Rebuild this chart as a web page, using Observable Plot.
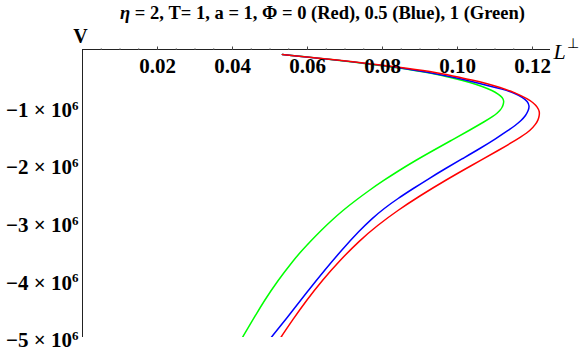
<!DOCTYPE html>
<html><head><meta charset="utf-8">
<script src="https://cdn.jsdelivr.net/npm/d3@7"></script>
<script src="https://cdn.jsdelivr.net/npm/@observablehq/plot@0.6"></script>
<style>body{margin:0;background:#fff}</style>
</head><body><div id="chart"></div>
<script>
const title = "η = 2, T= 1, a = 1, Φ = 0 (Red), 0.5 (Blue), 1 (Green)";
const xTicks = [0.02, 0.04, 0.06, 0.08, 0.10, 0.12];
const xTickLabels = ["0.02", "0.04", "0.06", "0.08", "0.10", "0.12"];
const yTicks = [-1, -2, -3, -4, -5];            // in units of 10^6
const yTickLabels = ["−1 × 10", "−2 × 10", "−3 × 10", "−4 × 10", "−5 × 10"];
const yTickExp = "6";

// Φ = 0 (Red): L⊥ and V (×10^6)
const redL = [0.0533,0.0680,0.0856,0.0928,0.0989,0.1040,0.1080,0.1115,0.1141,0.1165,0.1187,0.1203,0.1213,0.1219,0.1218,0.1215,0.1208,0.1195,0.1176,0.1109,0.1037,0.0967,0.0901,0.0840,0.0786,0.0739,0.0686,0.0639,0.0597,0.0559,0.0527];
const redV = [-0.087,-0.182,-0.313,-0.382,-0.460,-0.530,-0.595,-0.660,-0.720,-0.786,-0.859,-0.929,-0.998,-1.076,-1.155,-1.224,-1.302,-1.398,-1.493,-1.753,-2.014,-2.274,-2.535,-2.795,-3.056,-3.316,-3.663,-4.010,-4.358,-4.705,-5.017];
// Φ = 0.5 (Blue)
const blueL = [0.0533,0.0680,0.0856,0.0989,0.1061,0.1123,0.1155,0.1173,0.1187,0.1192,0.1189,0.1182,0.1170,0.1154,0.1135,0.1103,0.1060,0.1014,0.0968,0.0924,0.0882,0.0841,0.0804,0.0772,0.0739,0.0690,0.0645,0.0602,0.0561,0.0501];
const blueV = [-0.087,-0.182,-0.318,-0.477,-0.590,-0.694,-0.764,-0.833,-0.903,-0.981,-1.059,-1.146,-1.233,-1.319,-1.406,-1.545,-1.719,-1.892,-2.066,-2.240,-2.413,-2.587,-2.760,-2.934,-3.142,-3.490,-3.837,-4.184,-4.531,-5.017];
// Φ = 1 (Green)
const greenL = [0.0533,0.0680,0.0856,0.0928,0.0989,0.1035,0.1069,0.1093,0.1109,0.1120,0.1124,0.1122,0.1119,0.1113,0.1105,0.1094,0.1077,0.1031,0.0983,0.0935,0.0888,0.0844,0.0803,0.0764,0.0728,0.0694,0.0664,0.0636,0.0610,0.0585,0.0562,0.0521,0.0485,0.0453,0.0425];
const greenV = [-0.087,-0.182,-0.326,-0.408,-0.495,-0.573,-0.648,-0.712,-0.773,-0.833,-0.894,-0.955,-1.007,-1.059,-1.111,-1.163,-1.233,-1.406,-1.580,-1.753,-1.927,-2.101,-2.274,-2.448,-2.622,-2.795,-2.969,-3.142,-3.316,-3.490,-3.663,-4.010,-4.358,-4.705,-5.017];

const series = [
  {name: "green", color: "#00ff00", L: greenL, V: greenV},
  {name: "blue", color: "#0000ff", L: blueL, V: blueV},
  {name: "red", color: "#ff0000", L: redL, V: redV}
];
const rows = series.flatMap(s => s.L.map((l, i) => ({s: s.name, color: s.color, L: l, V: s.V[i]})));
const xMinor = d3.range(1, 25).map(i => +(i * 0.005).toFixed(3));

const serif = "'Liberation Serif', 'Times New Roman', serif";
const svg = Plot.plot({
  width: 581, height: 351,
  marginLeft: 82, marginRight: 31, marginTop: 49, marginBottom: 14,
  style: {fontFamily: serif, fontWeight: "bold", fontSize: "21px", background: "white", color: "#000"},
  x: {domain: [0, 0.1248]},
  y: {domain: [-5, 0]},
  marks: [
    Plot.line(rows, {x: "L", y: "V", z: "s", stroke: "color", strokeWidth: 1.5, curve: "basis", clip: true}),
    Plot.ruleY([0], {stroke: "#222", strokeWidth: 1}),
    Plot.ruleX([0], {stroke: "#222", strokeWidth: 1}),
    Plot.axisX(xMinor, {anchor: "top", label: null, tickSize: 2, tickFormat: () => "", stroke: "#666", strokeOpacity: 0.7}),
    Plot.axisX(xTicks, {anchor: "top", label: null, tickSize: 3.5, tickFormat: () => "", stroke: "#444"}),
    Plot.axisX(xTicks, {anchor: "top", label: null, tickSize: 0, tickPadding: 0, dy: 23, tickFormat: d => xTickLabels[xTicks.indexOf(d)], fontSize: 21, fontWeight: "bold", fill: "#000"}),
    Plot.axisY(yTicks, {anchor: "left", label: null, tickSize: 0, tickPadding: 4, dy: 3, tickFormat: d => yTickLabels[yTicks.indexOf(d)], fontSize: 21, fontWeight: "bold", fill: "#000"}),
    Plot.text([title], {frameAnchor: "top", dx: 6, dy: -31, lineAnchor: "bottom", fontSize: 18.5, fontWeight: "bold", fill: "#000"}),
    Plot.text(["V"], {frameAnchor: "top-left", dx: -2, dy: -7, textAnchor: "middle", lineAnchor: "bottom", fontSize: 20, fontWeight: "bold", fill: "#000"}),
    Plot.text(["L"], {frameAnchor: "top-right", dx: 3, dy: 9, textAnchor: "start", lineAnchor: "bottom", fontSize: 22, fontStyle: "italic", fontWeight: "normal", fill: "#000"}),
    Plot.text(["⊥"], {frameAnchor: "top-right", dx: 16, dy: -2, textAnchor: "start", lineAnchor: "bottom", fontSize: 14, fontWeight: "normal", fill: "#000"})
  ]
});

const root = d3.select(svg);
root.selectAll('g[aria-label="y-axis tick label"] text').each(function() {
  const s = this.textContent;
  const t = d3.select(this);
  t.text(s);
  t.append("tspan").attr("dy", "-0.55em").attr("font-size", "13px").text(yTickExp);
});
root.selectAll("text").filter(function() { return this.textContent === title; }).each(function() {
  const t = d3.select(this);
  t.text(null);
  t.append("tspan").attr("font-style", "italic").text("η");
  t.append("tspan").text(title.slice(1));
});
document.getElementById("chart").append(svg);
</script>
</body></html>
